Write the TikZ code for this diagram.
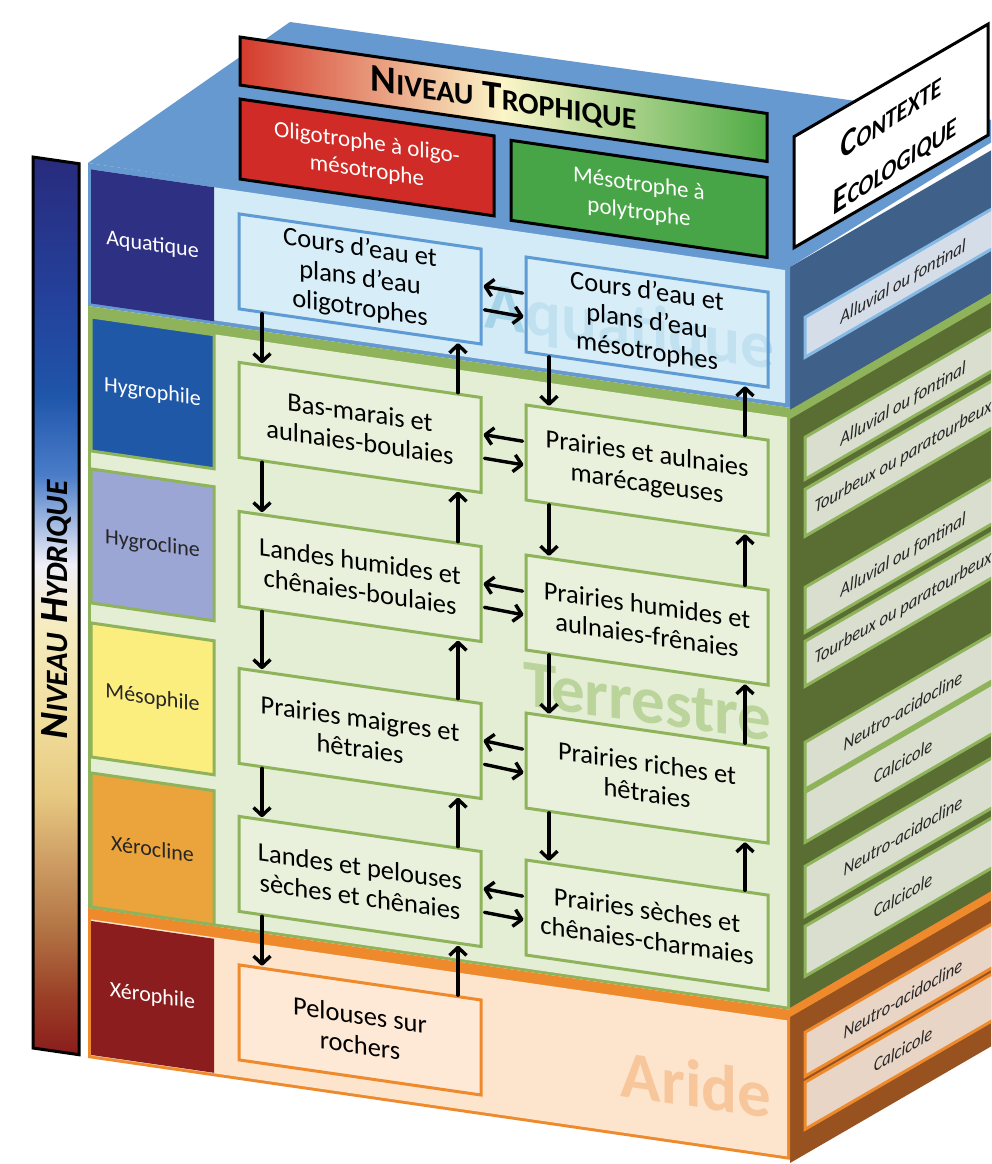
\documentclass[tikz,border=0pt]{standalone}
\usepackage{fontspec}
\setmainfont{Carlito}
\usetikzlibrary{arrows.meta,calc}
\definecolor{topblue}{HTML}{6699CF}
\definecolor{aqside}{HTML}{3F6088}
\definecolor{aqback}{HTML}{D2EBF7}
\definecolor{aqboxc}{HTML}{DDF0FA}
\definecolor{aqline}{HTML}{5E9AD3}
\definecolor{aqlabel}{HTML}{2E3083}
\definecolor{aqword}{HTML}{A6D3E8}
\definecolor{aqstrip}{HTML}{86B9E4}
\definecolor{teline}{HTML}{8EB35A}
\definecolor{teback}{HTML}{E4EED4}
\definecolor{teboxc}{HTML}{EFF5E5}
\definecolor{teside}{HTML}{5A6D33}
\definecolor{teword}{HTML}{BAD49C}
\definecolor{arline}{HTML}{EE8A2C}
\definecolor{arback}{HTML}{FDE4CD}
\definecolor{arboxc}{HTML}{FEEEDF}
\definecolor{arside}{HTML}{97521F}
\definecolor{arword}{HTML}{F8C69B}
\definecolor{stripte}{HTML}{D9DECF}
\definecolor{stripaq}{HTML}{D5DDE8}
\definecolor{stripar}{HTML}{E9D5C6}
\definecolor{hygro}{HTML}{2058A8}
\definecolor{hygcl}{HTML}{9BA6D5}
\definecolor{meso}{HTML}{FCEE7E}
\definecolor{xercl}{HTML}{EBA43C}
\definecolor{xero}{HTML}{8B1D1E}
\definecolor{oligored}{HTML}{D02B27}
\definecolor{mesogreen}{HTML}{47A547}
\definecolor{trA}{HTML}{D43A2C}
\definecolor{trB}{HTML}{FBF5C8}
\definecolor{trC}{HTML}{4EAA45}
% degrade du niveau hydrique (bas -> haut)
\definecolor{hyA}{HTML}{8B1C1C}
\definecolor{hyB}{HTML}{9A3E26}
\definecolor{hyC}{HTML}{B37545}
\definecolor{hyD}{HTML}{CFA066}
\definecolor{hyE}{HTML}{E6C880}
\definecolor{hyF}{HTML}{F0DC9A}
\definecolor{hyG}{HTML}{F5ECC0}
\definecolor{hyH}{HTML}{F0EEF8}
\definecolor{hyI}{HTML}{4A7CC8}
\definecolor{hyJ}{HTML}{1F55AA}
\definecolor{hyK}{HTML}{24409A}
\definecolor{hyL}{HTML}{282B7D}
\pgfdeclareverticalshading{hydro}{100bp}{color(0bp)=(hyA); color(25bp)=(hyA); color(28.1bp)=(hyB); color(32.1bp)=(hyC); color(36bp)=(hyD); color(39.4bp)=(hyE); color(43.3bp)=(hyF); color(48.9bp)=(hyG); color(52.3bp)=(hyH); color(57.3bp)=(hyI); color(61.8bp)=(hyJ); color(67.4bp)=(hyK); color(75bp)=(hyL); color(100bp)=(hyL)}
\newcommand\scw[4]{{\fontsize{#1}{#1}\selectfont#3}{\fontsize{#2}{#2}\selectfont#4}}

\begin{document}
\begin{tikzpicture}[x=1pt,y=-1pt,
	tbox/.style={draw,line width=3pt,minimum width=242pt,minimum height=95pt,inner sep=0pt,align=center,fill opacity=0.5,text opacity=1,draw opacity=1,font=\fontsize{26.5}{30}\selectfont},
	aqnode/.style={tbox,draw=aqline,fill=aqboxc},
	tenode/.style={tbox,draw=teline,fill=teboxc},
	arnode/.style={tbox,draw=arline,fill=arboxc},
	lab/.style={minimum width=123pt,minimum height=134pt,inner sep=0pt,font=\fontsize{22}{26}\selectfont},
	telab/.style={lab,draw=teline,line width=3pt},
	word/.style={anchor=base east,font=\bfseries\fontsize{67}{67}\selectfont},
	arr/.style={line width=3.4pt,line cap=round,-{Straight Barb[length=8pt,width=17pt,line join=round]},shorten >=1pt},
	strip/.style={line width=3pt},
	sidetxt/.style={transform shape,xscale=0.87,font=\itshape\fontsize{19}{20}\selectfont,text=black!85},
	thead/.style={draw=black,line width=3pt,inner sep=0pt,align=center}]
	\useasboundingbox (0,0) rectangle (991,1164);
	\clip (0,0) rectangle (991,1164);
	\fill[white] (0,0) rectangle (991,1164);
	% face du dessus
	\fill[topblue] (88,163) -- (290,22) -- (1021,124) -- (790,267) -- cycle;
	% face de droite : contexte ecologique
	\begin{scope}[shift={(790,0)},yslant=0.58]
		\fill[aqside] (0,267) rectangle (240,410);
		\fill[teside] (0,410) rectangle (240,1008);
		\fill[teline] (0,410) rectangle (240,419);
		\fill[arside] (0,1008) rectangle (240,1163);
		\fill[arline] (0,1008) rectangle (240,1017);
		\filldraw[strip,fill=stripaq,draw=aqstrip] (15,326) rectangle (260,366);
		\foreach \ya/\yb in {446/488,498/545,596/641,650/695,751/798,801/851,875/925,935/985}
			\filldraw[strip,fill=stripte,draw=teline] (15,\ya) rectangle (260,\yb);
		\foreach \ya/\yb in {1041/1085,1091/1138}
			\filldraw[strip,fill=stripar,draw=arline] (15,\ya) rectangle (260,\yb);
		\node[sidetxt] (s0) at (113,348) {Alluvial ou fontinal};
		\node[sidetxt] (s1) at (113,470) {Alluvial ou fontinal};
		\node[sidetxt] (s2) at (113,523) {Tourbeux ou paratourbeux};
		\node[sidetxt] (s3) at (113,621) {Alluvial ou fontinal};
		\node[sidetxt] (s4) at (113,674) {Tourbeux ou paratourbeux};
		\node[sidetxt] (s5) at (113,776) {Neutro-acidocline};
		\node[sidetxt] (s6) at (113,827) {Calcicole};
		\node[sidetxt] (s7) at (113,901) {Neutro-acidocline};
		\node[sidetxt] (s8) at (113,961) {Calcicole};
		\node[sidetxt] (s9) at (113,1064) {Neutro-acidocline};
		\node[sidetxt] (s10) at (113,1115) {Calcicole};
		\filldraw[fill=white,draw=black,line width=3pt] (4,139) rectangle (198,250);
		\node[transform shape,rotate=4,xscale=0.82,align=center,font=\bfseries\itshape\fontsize{37}{50}\selectfont] (ctx) at (103,201)
			{\scw{37}{27}{C}{ONTEXTE}\\\scw{37}{27}{E}{COLOGIQUE}};
	\end{scope}
	% face avant
	\begin{scope}[shift={(0,-12.76)},yslant=-0.145,transform shape]
		\fill[topblue] (88,163) rectangle (790,306);
		\fill[aqback] (94,169) rectangle (785,302);
		\fill[teline] (88,306) rectangle (790,908);
		\fill[teback] (91,316) rectangle (787,905);
		\fill[arline] (88,908) rectangle (790,1058);
		\fill[arback] (91,919) rectangle (787,1055);
		% niveaux hydriques
		\node[lab,fill=aqlabel,text=white] (laq) at (152.5,236) {Aquatique};
		\node[telab,fill=hygro,text=white] (lhy) at (152.5,383.5) {Hygrophile};
		\node[telab,fill=hygcl,text=black!85] (lhc) at (152.5,535.5) {Hygrocline};
		\node[telab,fill=meso,text=black!85] (lme) at (152.5,689.5) {Mésophile};
		\node[telab,fill=xercl,text=black!85] (lxc) at (152.5,839.5) {Xérocline};
		\node[lab,fill=xero,text=white] (lxe) at (152.5,987.5) {Xérophile};
		\node[word,text=aqword] (waq) at (778,270) {Aquatique};
		\node[word,text=teword] (wte) at (775,642) {Terrestre};
		\node[word,text=arword] (war) at (775,1019) {Aride};
		% milieux
		\node[aqnode] (oligo) at (360,239.5) {Cours d’eau et\\plans d’eau\\oligotrophes};
		\node[aqnode] (meso) at (647,241) {Cours d’eau et\\plans d’eau\\mésotrophes};
		\node[tenode] (basm) at (360,388) {Bas-marais et\\aulnaies-boulaies};
		\node[tenode] (prmar) at (647,389) {Prairies et aulnaies\\marécageuses};
		\node[tenode] (lhum) at (360,537) {Landes humides et\\chênaies-boulaies};
		\node[tenode] (phum) at (647,539) {Prairies humides et\\aulnaies-frênaies};
		\node[tenode] (pmai) at (360,694) {Prairies maigres et\\hêtraies};
		\node[tenode] (prich) at (647,697) {Prairies riches et\\hêtraies};
		\node[tenode] (lsec) at (360,842) {Landes et pelouses\\sèches et chênaies};
		\node[tenode] (psec) at (647,844) {Prairies sèches et\\chênaies-charmaies};
		\node[arnode] (pelr) at (360,990.5) {Pelouses sur\\rochers};
		\foreach \a/\b in {oligo/basm,basm/lhum,lhum/pmai,pmai/lsec,lsec/pelr,meso/prmar,prmar/phum,phum/prich,prich/psec}{
			\draw[arr] ($(\a.south west)!0.1!(\a.south east)$) -- ($(\b.north west)!0.1!(\b.north east)$);
			\draw[arr] ($(\b.north west)!0.9!(\b.north east)$) -- ($(\a.south west)!0.9!(\a.south east)$);
		}
		\foreach \a/\b in {oligo/meso,basm/prmar,lhum/phum,pmai/prich,lsec/psec}{
			\draw[arr,shorten <=2pt] ($(\b.north west)!0.39!(\b.south west)$) -- ($(\a.north east)!0.39!(\a.south east)$);
			\draw[arr,shorten <=2pt] ($(\a.north east)!0.63!(\a.south east)$) -- ($(\b.north west)!0.63!(\b.south west)$);
		}
		% niveau trophique
		\node[thead,minimum width=527pt,minimum height=48pt,left color=trA,right color=trC,middle color=trB,font=\bfseries] (tro) at (503.5,39)
			{\scw{39}{30}{N}{IVEAU}\hspace{9pt}\scw{39}{30}{T}{ROPHIQUE}};
		\node[thead,fill=oligored,text=white,minimum width=254pt,minimum height=80pt,font=\fontsize{23}{28}\selectfont] (toli) at (367,117) {Oligotrophe à oligo-\\mésotrophe};
		\node[thead,fill=mesogreen,text=white,minimum width=256pt,minimum height=80pt,font=\fontsize{23}{28}\selectfont] (tmes) at (639,119) {Mésotrophe à\\polytrophe};
		% niveau hydrique
		\shadedraw[shading=hydro,draw=black,line width=3pt] (33,165) rectangle (79,1056);
		\node[rotate=90,font=\bfseries] (hyd) at (56,614) {\scw{40}{31}{N}{IVEAU}\hspace{9pt}\scw{40}{31}{H}{YDRIQUE}};
	\end{scope}
\end{tikzpicture}
\end{document}
